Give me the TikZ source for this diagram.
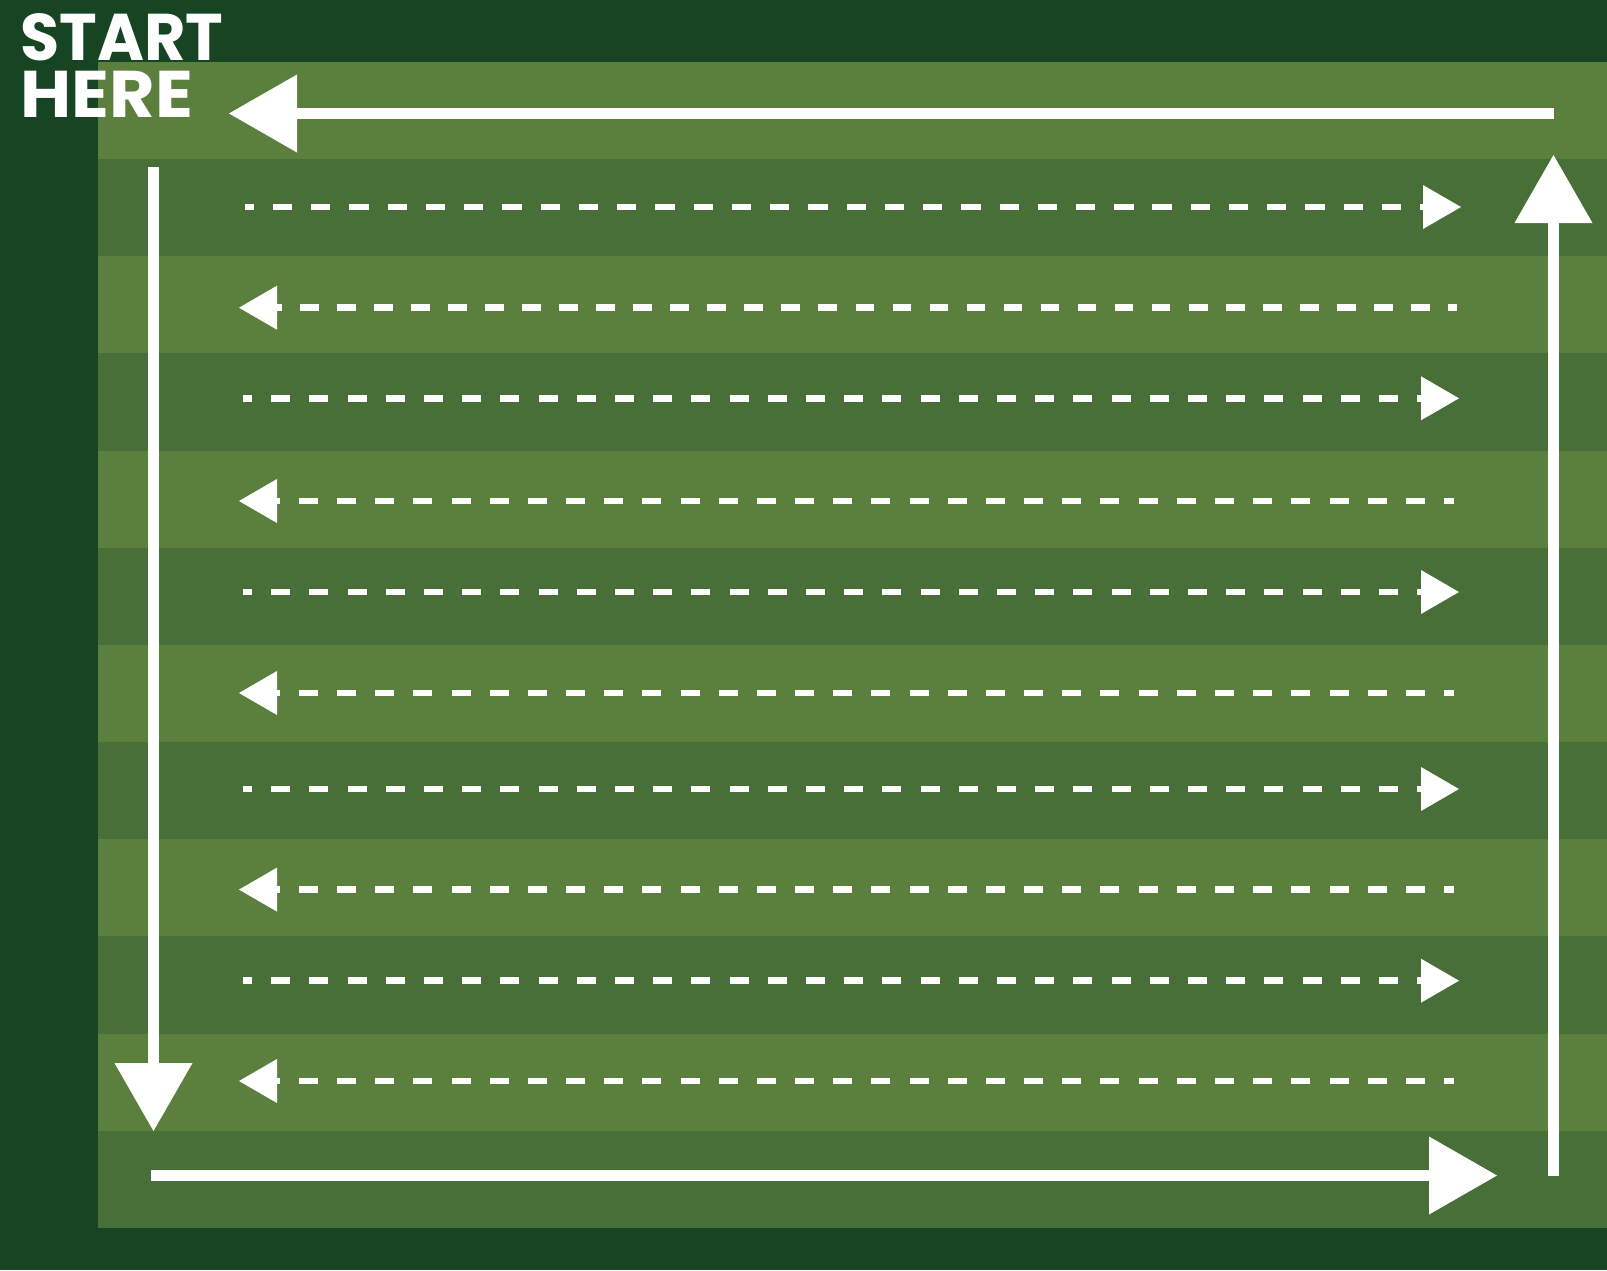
\documentclass[tikz,border=0pt]{standalone}
\usepackage{fontspec}
\setmainfont{Poppins}
\usetikzlibrary{arrows.meta}
\definecolor{bgdark}{RGB}{23,69,35}
\definecolor{stripeL}{RGB}{91,128,62}
\definecolor{stripeD}{RGB}{72,111,55}
\begin{document}
\begin{tikzpicture}[x=0.5pt,y=-0.5pt,
  bigarrow/.style={draw=white, line width=5.5pt, -{Triangle[length=34pt,width=39pt,line width=0pt]}},
  dasharrow/.style={draw=white, line width=3.25pt, -{Triangle[length=19pt,width=22pt,line width=0pt]}},
  txtstyle/.style={text=white, font=\fontsize{33}{33}\selectfont\bfseries, inner sep=0pt, anchor=base west}]
\useasboundingbox (0,0) rectangle (1607,1270);
\fill[bgdark] (0,0) rectangle (1607,1270);
% field stripes
\foreach \i in {0,2,...,10} \fill[stripeL] (98,{62+97.15*\i}) rectangle (1607,{62+97.15*(\i+1)});
\foreach \i in {1,3,...,11} \fill[stripeD] (98,{62+97.15*\i}) rectangle (1607,{62+97.15*(\i+1)});
% title
\node[txtstyle] (start) at (20,60) {\addfontfeature{FakeStretch=0.965}START};
\node[txtstyle] (here) at (20,117) {\addfontfeature{FakeStretch=1.06}HERE};
% big perimeter arrows
\coordinate (topR) at (1554,113.5);
\coordinate (topL) at (229,113.5);
\coordinate (leftT) at (153.5,167);
\coordinate (leftB) at (153.5,1131);
\coordinate (botL) at (151,1175.5);
\coordinate (botR) at (1497,1175.5);
\coordinate (rightB) at (1553.5,1176);
\coordinate (rightT) at (1553.5,155);
\draw[bigarrow] (topR) -- (topL);
\draw[bigarrow] (leftT) -- (leftB);
\draw[bigarrow] (botL) -- (botR);
\draw[bigarrow] (rightB) -- (rightT);
% dashed rows
\coordinate (r1s) at (245,207);   \coordinate (r1e) at (1461,207);
\coordinate (r2s) at (1457,307.7); \coordinate (r2e) at (239,307.7);
\draw[dasharrow, dash pattern=on 9.65pt off 9.47pt, dash phase=5.15pt] (r1s) -- (r1e);
\draw[dasharrow, dash pattern=on 9.35pt off 9.165pt, dash phase=4.85pt] (r2s) -- (r2e);
\foreach \n/\y in {3/398.3,5/592,7/789,9/980.7}{
  \coordinate (r\n s) at (243,\y); \coordinate (r\n e) at (1459,\y);
  \draw[dasharrow, dash pattern=on 9.5pt off 9.6pt, dash phase=5pt] (r\n s) -- (r\n e);
}
\foreach \n/\y in {4/501,6/693,8/889.6,10/1081}{
  \coordinate (r\n s) at (1454,\y); \coordinate (r\n e) at (239,\y);
  \draw[dasharrow, dash pattern=on 9.5pt off 9.585pt, dash phase=4.5pt] (r\n s) -- (r\n e);
}
\end{tikzpicture}
\end{document}
